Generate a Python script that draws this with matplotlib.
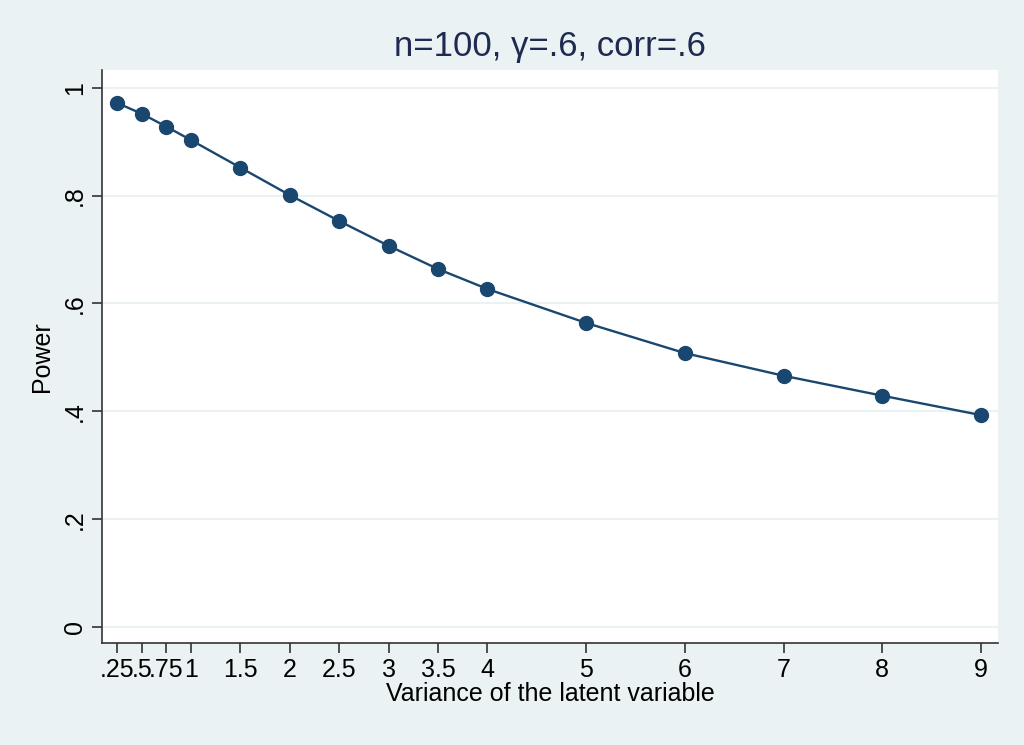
import matplotlib
matplotlib.use('Agg')
import matplotlib.pyplot as plt

# variance of the latent variable vs power
variance = [0.25, 0.5, 0.75, 1, 1.5, 2, 2.5, 3, 3.5, 4, 5, 6, 7, 8, 9]
power = [0.972, 0.952, 0.928, 0.903, 0.852, 0.801, 0.753, 0.707, 0.664,
         0.627, 0.564, 0.508, 0.466, 0.429, 0.393]
xtick_labels = ['.25', '.5', '.75', '1', '1.5', '2', '2.5', '3', '3.5', '4',
                '5', '6', '7', '8', '9']
yticks = [0, 0.2, 0.4, 0.6, 0.8, 1]
ytick_labels = ['0', '.2', '.4', '.6', '.8', '1']

plt.rcParams['font.family'] = ['Liberation Sans', 'DejaVu Sans']

bg = '#eaf2f3'
navy = '#1a476f'

fig = plt.figure(figsize=(10.24, 7.45), dpi=100, facecolor=bg)
ax = fig.add_axes([0.0996, 0.1369, 0.875, 0.7691])
ax.set_facecolor('white')

for y in yticks:
    ax.axhline(y, color=bg, lw=1.5, zorder=0)

ax.plot(variance, power, color=navy, lw=1.7, marker='o', ms=10,
        markerfacecolor=navy, markeredgecolor=navy, zorder=3)

ax.set_xlim(0.098, 9.172)
ax.set_ylim(-0.0297, 1.033)

ax.set_xticks(variance)
ax.set_xticklabels(xtick_labels, fontsize=18)
ax.set_yticks(yticks)
ax.set_yticklabels(ytick_labels, fontsize=18, rotation=90, va='center')

ax.tick_params(direction='out', length=7, width=1.2, color='#333333', pad=4)
for side in ['top', 'right']:
    ax.spines[side].set_visible(False)
for side in ['left', 'bottom']:
    ax.spines[side].set_color('#333333')
    ax.spines[side].set_linewidth(1.2)

ax.set_xlabel('Variance of the latent variable', fontsize=18, labelpad=0)
ax.set_ylabel('Power', fontsize=18, labelpad=6)
ax.set_title('n=100, \u03b3=.6, corr=.6', fontsize=25, color='#1e2a50', pad=10)

fig.savefig('out.png', dpi=100, facecolor=bg)
